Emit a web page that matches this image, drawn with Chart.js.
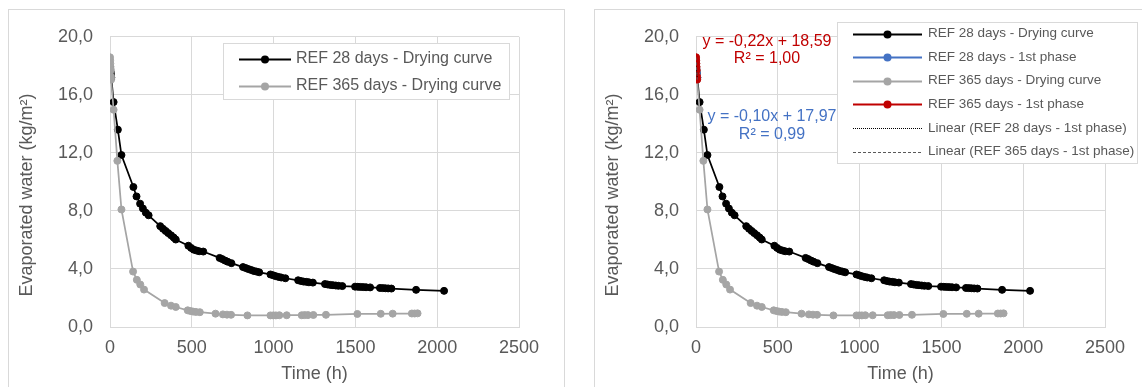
<!DOCTYPE html>
<html>
<head>
<meta charset="utf-8">
<title>Evaporated water – drying curves</title>
<script src="https://cdn.jsdelivr.net/npm/chart.js@4.4.1/dist/chart.umd.min.js"></script>
<style>
  html, body { margin: 0; padding: 0; background: #ffffff; width: 1142px; height: 387px; overflow: hidden; }
  .panel { position: absolute; border: 1px solid #d9d9d9; box-sizing: border-box; background: #ffffff; }
  canvas { position: absolute; }
</style>
</head>
<body>
<div class="panel" style="left:8px;top:9px;width:557px;height:420px"></div>
<div class="panel" style="left:594px;top:9px;width:600px;height:420px"></div>
<canvas id="left" width="556" height="378" style="left:8px;top:9px"></canvas>
<canvas id="right" width="548" height="378" style="left:594px;top:9px"></canvas>
<script>
// ---- Measured data --------------------------------------------------------
// REF 28 days – full drying curve (time in hours, evaporated water in kg/m²)
const hours28 = [0, 2, 4, 6, 8, 22, 48, 70, 143, 162, 184, 201, 219, 236, 307, 324, 340, 356, 373, 389, 402,
  479, 496, 512, 529, 545, 570, 670, 686, 703, 719, 742, 813, 830, 846, 863, 879, 895, 912,
  981, 998, 1014, 1031, 1047, 1072, 1150, 1167, 1183, 1200, 1216, 1240, 1314, 1330, 1347, 1363, 1380, 1396, 1420,
  1498, 1515, 1531, 1548, 1565, 1590, 1650, 1667, 1683, 1700, 1720, 1871, 2042];
const water28 = [17.96, 17.78, 17.58, 17.39, 17.18, 15.50, 13.60, 11.85, 9.65, 9.00, 8.50, 8.17, 7.88, 7.70, 6.95, 6.77, 6.62, 6.47, 6.32, 6.17, 6.03,
  5.60, 5.45, 5.33, 5.27, 5.22, 5.20, 4.76, 4.68, 4.58, 4.50, 4.40, 4.13, 4.06, 3.99, 3.93, 3.86, 3.82, 3.77,
  3.62, 3.56, 3.50, 3.45, 3.41, 3.36, 3.22, 3.17, 3.13, 3.11, 3.08, 3.06, 2.96, 2.93, 2.90, 2.88, 2.86, 2.84, 2.82,
  2.78, 2.77, 2.76, 2.75, 2.74, 2.73, 2.69, 2.68, 2.67, 2.66, 2.65, 2.56, 2.49];

// REF 365 days – full drying curve
const hours365 = [0, 1, 2, 3, 4, 6, 7, 22, 45, 70, 141, 164, 185, 208, 334, 373, 402, 475, 492, 508, 525, 549,
  645, 690, 715, 740, 840, 981, 998, 1014, 1035, 1080, 1172, 1190, 1210, 1243, 1320, 1512, 1655, 1728, 1845, 1862, 1880];
const water365 = [18.59, 18.38, 18.15, 17.93, 17.70, 17.27, 17.05, 14.97, 11.45, 8.10, 3.82, 3.25, 2.93, 2.58, 1.65, 1.47, 1.38, 1.15, 1.10, 1.06, 1.04, 1.02,
  0.92, 0.87, 0.85, 0.84, 0.80, 0.80, 0.80, 0.80, 0.81, 0.81, 0.81, 0.82, 0.82, 0.83, 0.84, 0.90, 0.91, 0.92, 0.93, 0.93, 0.94];

// First (constant-rate) drying phase
const phaseHours28 = [0, 2, 4, 6, 8];
const phaseWater28 = [17.96, 17.78, 17.58, 17.39, 17.18];
const phaseHours365 = [0, 1, 2, 3, 4, 6, 7];
const phaseWater365 = [18.59, 18.38, 18.15, 17.93, 17.70, 17.27, 17.05];

// Linear fits of the first phase: [slope, intercept]
const fit28 = [-0.10, 17.97];
const fit365 = [-0.22, 18.59];

// Axis ticks
const xTicks = [0, 500, 1000, 1500, 2000, 2500];
const yTicks = [0, 4, 8, 12, 16, 20];

// ---- Helpers ---------------------------------------------------------------
const FONT = "'Liberation Sans', Arial, Helvetica, sans-serif";
const TEXT = '#595959';
const GRID = '#d9d9d9';

const pairs = (xs, ys) => xs.map((x, i) => ({ x, y: ys[i] }));
const fitLine = (xs, f) => {
  const x0 = Math.min(...xs), x1 = Math.max(...xs);
  return [{ x: x0, y: f[0] * x0 + f[1] }, { x: x1, y: f[0] * x1 + f[1] }];
};
const fmt = (v, d) => v.toFixed(d).replace('.', ',');

function curve(label, xs, ys, color, order) {
  return {
    label, data: pairs(xs, ys), showLine: true, order,
    borderColor: color, backgroundColor: color, borderWidth: 1.75,
    pointRadius: 3.5, pointBackgroundColor: color, pointBorderColor: color, pointBorderWidth: 1,
    legendKind: 'marker'
  };
}
function trend(label, xs, f, color, dash, order) {
  return {
    type: 'line', label, data: fitLine(xs, f), order,
    borderColor: color, backgroundColor: color, borderWidth: 1, borderDash: dash,
    pointRadius: 0, fill: false, legendKind: 'line'
  };
}

// Boxed legend drawn inside the plot area
const boxLegend = {
  id: 'boxLegend',
  afterDraw(chart, args, o) {
    const ctx = chart.ctx;
    ctx.save();
    ctx.fillStyle = '#ffffff';
    ctx.fillRect(o.left, o.top, o.width, o.height);
    ctx.strokeStyle = GRID;
    ctx.lineWidth = 1;
    ctx.strokeRect(o.left + 0.5, o.top + 0.5, o.width - 1, o.height - 1);
    ctx.font = o.fontSize + 'px ' + FONT;
    ctx.textBaseline = 'middle';
    ctx.textAlign = 'left';
    chart.data.datasets.forEach((ds, i) => {
      const y = o.rowY + i * o.rowGap;
      ctx.strokeStyle = ds.borderColor;
      ctx.lineWidth = ds.legendKind === 'marker' ? 2 : 1;
      ctx.setLineDash(ds.borderDash || []);
      ctx.beginPath();
      ctx.moveTo(o.lineX0, Math.round(y) + 0.5);
      ctx.lineTo(o.lineX1, Math.round(y) + 0.5);
      ctx.stroke();
      ctx.setLineDash([]);
      if (ds.legendKind === 'marker') {
        ctx.fillStyle = ds.borderColor;
        ctx.beginPath();
        ctx.arc((o.lineX0 + o.lineX1) / 2, Math.round(y) + 0.5, 4, 0, Math.PI * 2);
        ctx.fill();
      }
      ctx.fillStyle = TEXT;
      ctx.fillText(ds.label, o.textX, y);
    });
    ctx.restore();
  }
};

// Free text: rotated value-axis title and trendline equations
const notes = {
  id: 'notes',
  afterDraw(chart, args, o) {
    const ctx = chart.ctx;
    (o.items || []).forEach(t => {
      ctx.save();
      ctx.translate(t.x, t.y);
      if (t.rotate) ctx.rotate(t.rotate);
      ctx.font = t.size + 'px ' + FONT;
      ctx.fillStyle = t.color;
      ctx.textAlign = 'center';
      ctx.textBaseline = 'middle';
      ctx.fillText(t.text, 0, 0);
      ctx.restore();
    });
  }
};

function baseOptions(rightPad, legend, extraNotes) {
  return {
    responsive: false, animation: false, events: [],
    layout: { padding: { left: 0, top: 26, right: rightPad, bottom: 0 } },
    plugins: {
      legend: { display: false }, tooltip: { enabled: false },
      boxLegend: legend,
      notes: {
        items: [{ text: 'Evaporated water (kg/m²)', x: 19, y: 186, size: 18, color: TEXT, rotate: -Math.PI / 2 }]
          .concat(extraNotes)
      }
    },
    scales: {
      x: {
        type: 'linear', min: xTicks[0], max: xTicks[xTicks.length - 1],
        afterBuildTicks: s => { s.ticks = xTicks.map(v => ({ value: v })); },
        afterFit: s => { s.height = 60; },
        ticks: { color: TEXT, font: { family: FONT, size: 18 }, padding: 10, maxRotation: 0, callback: v => String(v) },
        grid: { color: GRID, lineWidth: 1, drawTicks: false },
        border: { color: GRID, width: 1 },
        title: { display: true, text: 'Time (h)', color: TEXT, font: { family: FONT, size: 18 }, padding: { top: 0, bottom: 2 } }
      },
      y: {
        type: 'linear', min: yTicks[0], max: yTicks[yTicks.length - 1],
        afterBuildTicks: s => { s.ticks = yTicks.map(v => ({ value: v })); },
        afterFit: s => { s.width = 102; },
        ticks: { color: TEXT, font: { family: FONT, size: 18 }, padding: 17, callback: v => fmt(v, 1) },
        grid: { color: GRID, lineWidth: 1, drawTicks: false },
        border: { color: GRID, width: 1 }
      }
    }
  };
}

// ---- Left chart: the two drying curves -------------------------------------
new Chart(document.getElementById('left'), {
  type: 'scatter',
  data: {
    datasets: [
      curve('REF 28 days - Drying curve', hours28, water28, '#000000', 2),
      curve('REF 365 days - Drying curve', hours365, water365, '#a5a5a5', 1)
    ]
  },
  options: baseOptions(45,
    { left: 215, top: 34, width: 287, height: 57, rowY: 49.5, rowGap: 27, lineX0: 231, lineX1: 283, textX: 288, fontSize: 16 },
    []),
  plugins: [boxLegend, notes]
});

// ---- Right chart: drying curves, first phase and its linear fits -----------
new Chart(document.getElementById('right'), {
  type: 'scatter',
  data: {
    datasets: [
      curve('REF 28 days - Drying curve', hours28, water28, '#000000', 5),
      curve('REF 28 days - 1st phase', phaseHours28, phaseWater28, '#4472c4', 4),
      curve('REF 365 days - Drying curve', hours365, water365, '#a5a5a5', 3),
      curve('REF 365 days - 1st phase', phaseHours365, phaseWater365, '#c00000', 2),
      trend('Linear (REF 28 days - 1st phase)', phaseHours28, fit28, '#000000', [1, 1], 1),
      trend('Linear (REF 365 days - 1st phase)', phaseHours365, fit365, '#595959', [3, 2], 0)
    ]
  },
  options: baseOptions(37,
    { left: 243, top: 13, width: 301, height: 142, rowY: 24.5, rowGap: 23.6, lineX0: 259, lineX1: 328, textX: 334, fontSize: 13.5 },
    [
      { text: 'y = ' + fmt(fit365[0], 2) + 'x + ' + fmt(fit365[1], 2), x: 173, y: 33, size: 16, color: '#c00000' },
      { text: 'R² = 1,00', x: 173, y: 50, size: 16, color: '#c00000' },
      { text: 'y = ' + fmt(fit28[0], 2) + 'x + ' + fmt(fit28[1], 2), x: 178, y: 108, size: 16, color: '#4472c4' },
      { text: 'R² = 0,99', x: 178, y: 126, size: 16, color: '#4472c4' }
    ]),
  plugins: [boxLegend, notes]
});
</script>
</body>
</html>
